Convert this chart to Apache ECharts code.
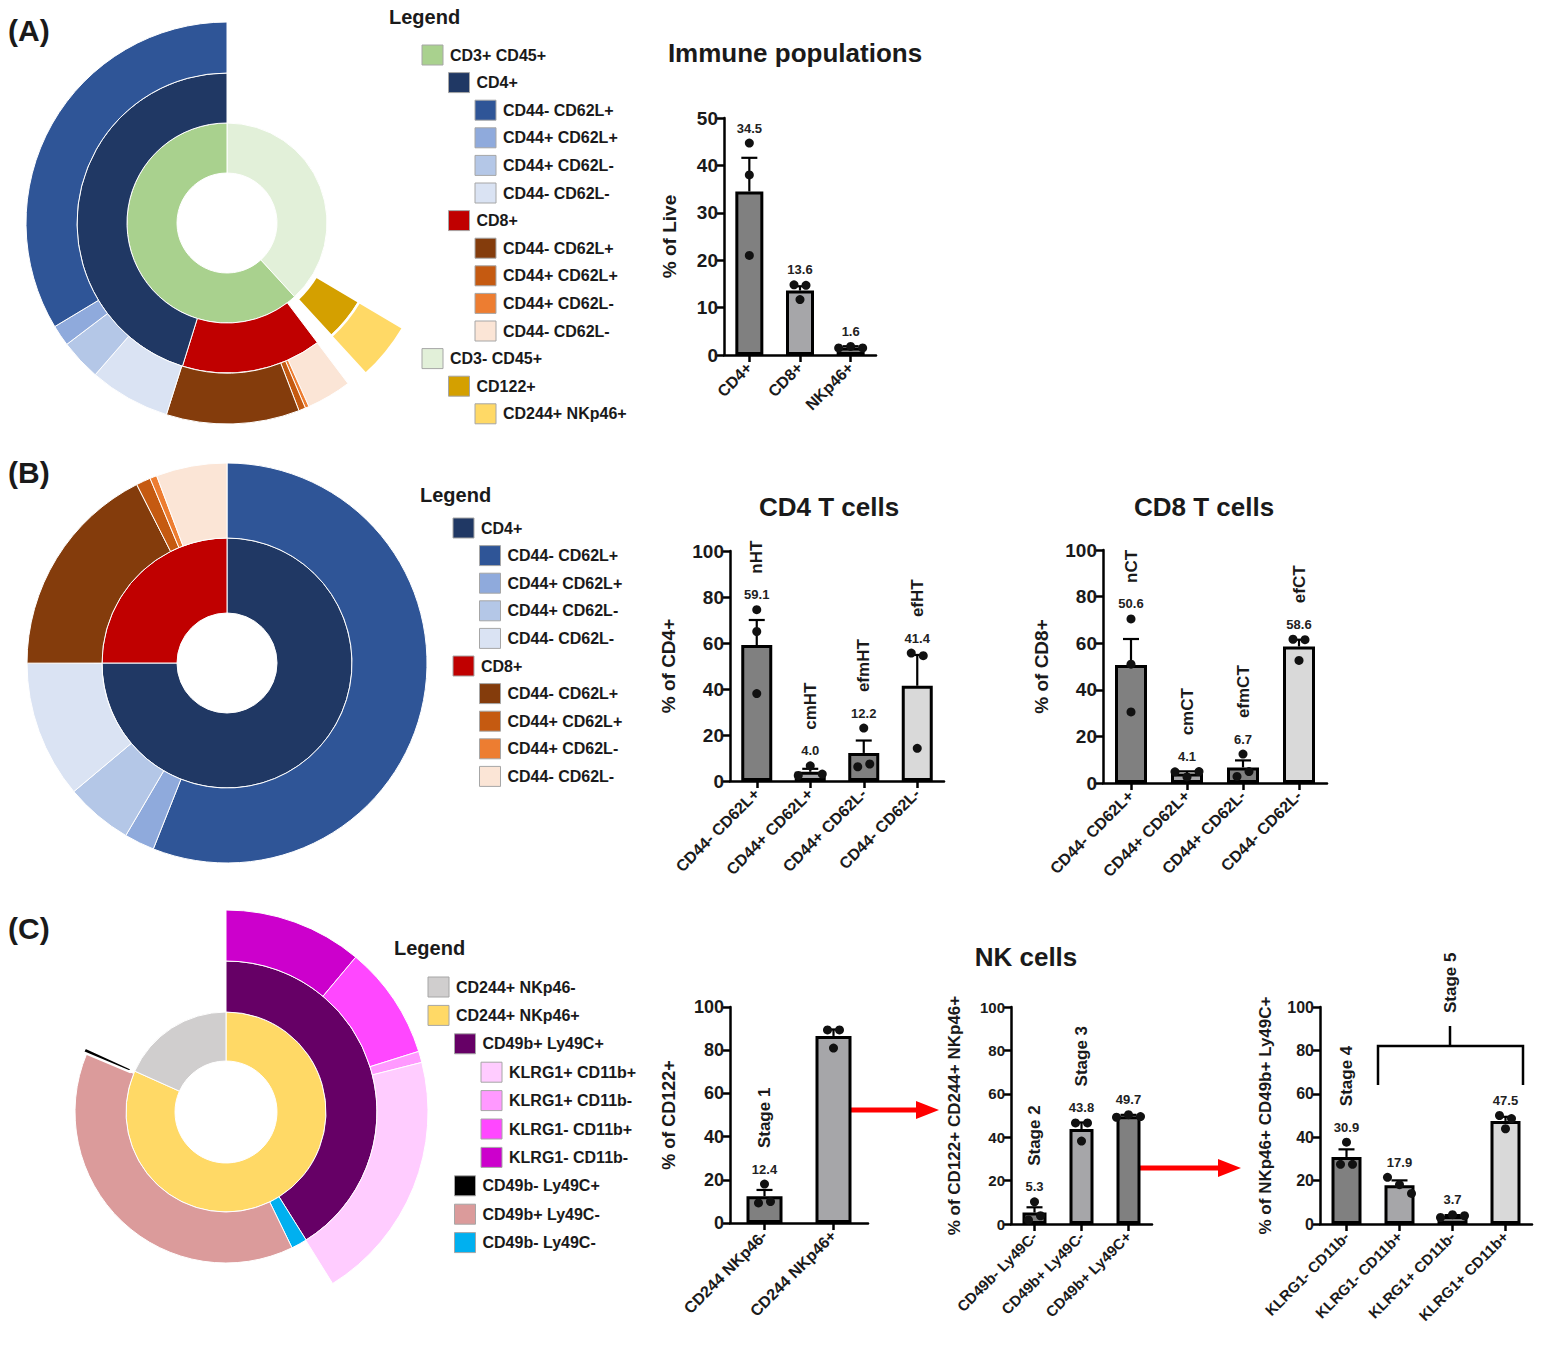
<!DOCTYPE html>
<html>
<head>
<meta charset="utf-8">
<title>Immune populations</title>
<script src="https://cdn.jsdelivr.net/npm/echarts@6/dist/echarts.min.js"></script>
<style>
  html, body { margin: 0; padding: 0; background: #fff; }
  #main { width: 1544px; height: 1350px; }
</style>
</head>
<body>
<div id="main"></div>
<script>
// ---------- sunburst rings (percent of the full circle, clockwise from 12 o'clock, '' = empty) ----------
const sunA1Names = ['CD3- CD45+', 'CD3+ CD45+'];
const sunA1Values = [38.2, 61.8];
const sunA2Names = ['', 'CD122+', '', 'CD8+', 'CD4+'];
const sunA2Values = [33.5, 4.7, 1.5, 15.1, 45.2];
const sunA3Names = ['', 'CD244+ NKp46+', '', 'CD8+ CD44- CD62L-', 'CD8+ CD44+ CD62L-', 'CD8+ CD44+ CD62L+',
  'CD8+ CD44- CD62L+', 'CD4+ CD44- CD62L-', 'CD4+ CD44+ CD62L-', 'CD4+ CD44+ CD62L+', 'CD4+ CD44- CD62L+'];
const sunA3Values = [33.5, 4.7, 1.5, 3.6, 0.3, 0.55, 10.7, 6.5, 3.3, 1.7, 33.6];

const sunB1Names = ['CD4+', 'CD8+'];
const sunB1Values = [75, 25];
const sunB2Names = ['CD4+ CD44- CD62L+', 'CD4+ CD44+ CD62L+', 'CD4+ CD44+ CD62L-', 'CD4+ CD44- CD62L-',
  'CD8+ CD44- CD62L+', 'CD8+ CD44+ CD62L+', 'CD8+ CD44+ CD62L-', 'CD8+ CD44- CD62L-'];
const sunB2Values = [56.0, 2.44, 5.44, 11.1, 17.56, 1.17, 0.56, 5.72];

const sunC1Names = ['CD244+ NKp46+', 'CD244+ NKp46-'];
const sunC1Values = [81.7, 18.3];
const sunC2Names = ['CD49b+ Ly49C+', 'CD49b- Ly49C-', 'CD49b+ Ly49C-', 'CD49b- Ly49C+', ''];
const sunC2Values = [41.1, 1.7, 38.5, 0.55, 18.15];
const sunC3Names = ['KLRG1- CD11b-', 'KLRG1- CD11b+', 'KLRG1+ CD11b-', 'KLRG1+ CD11b+', ''];
const sunC3Values = [11.1, 9.05, 0.9, 20.1, 58.85];

// ---------- legends ----------
const legAText = ['CD3+ CD45+', 'CD4+', 'CD44- CD62L+', 'CD44+ CD62L+', 'CD44+ CD62L-', 'CD44- CD62L-',
  'CD8+', 'CD44- CD62L+', 'CD44+ CD62L+', 'CD44+ CD62L-', 'CD44- CD62L-', 'CD3- CD45+', 'CD122+', 'CD244+ NKp46+'];
const legAKeys = ['CD3+ CD45+', 'CD4+', 'CD4+ CD44- CD62L+', 'CD4+ CD44+ CD62L+', 'CD4+ CD44+ CD62L-', 'CD4+ CD44- CD62L-',
  'CD8+', 'CD8+ CD44- CD62L+', 'CD8+ CD44+ CD62L+', 'CD8+ CD44+ CD62L-', 'CD8+ CD44- CD62L-', 'CD3- CD45+', 'CD122+', 'CD244+ NKp46+'];
const legALevels = [0, 1, 2, 2, 2, 2, 1, 2, 2, 2, 2, 0, 1, 2];

const legBText = ['CD4+', 'CD44- CD62L+', 'CD44+ CD62L+', 'CD44+ CD62L-', 'CD44- CD62L-',
  'CD8+', 'CD44- CD62L+', 'CD44+ CD62L+', 'CD44+ CD62L-', 'CD44- CD62L-'];
const legBKeys = ['CD4+', 'CD4+ CD44- CD62L+', 'CD4+ CD44+ CD62L+', 'CD4+ CD44+ CD62L-', 'CD4+ CD44- CD62L-',
  'CD8+', 'CD8+ CD44- CD62L+', 'CD8+ CD44+ CD62L+', 'CD8+ CD44+ CD62L-', 'CD8+ CD44- CD62L-'];
const legBLevels = [0, 1, 1, 1, 1, 0, 1, 1, 1, 1];

const legCText = ['CD244+ NKp46-', 'CD244+ NKp46+', 'CD49b+ Ly49C+', 'KLRG1+ CD11b+', 'KLRG1+ CD11b-',
  'KLRG1- CD11b+', 'KLRG1- CD11b-', 'CD49b- Ly49C+', 'CD49b+ Ly49C-', 'CD49b- Ly49C-'];
const legCLevels = [0, 0, 1, 2, 2, 2, 2, 1, 1, 1];

// ---------- bar charts ----------
const popCats = ['CD4+', 'CD8+', 'NKp46+'];
const popMeans = [34.5, 13.6, 1.6];
const popSem = [7.1, 0.9, 0.25];
const popDots = [[44.7, 38.0, 21.0], [14.8, 14.7, 11.7], [1.5, 1.8, 1.5]];
const popLabels = ['34.5', '13.6', '1.6'];

const cd4Cats = ['CD44- CD62L+', 'CD44+ CD62L+', 'CD44+ CD62L-', 'CD44- CD62L-'];
const cd4Means = [59.1, 4.0, 12.2, 41.4];
const cd4Sem = [10.9, 1.3, 5.4, 13.4];
const cd4Dots = [[74.5, 65.0, 38.0], [2.4, 6.6, 3.0], [23.0, 6.2, 7.4], [55.6, 54.5, 14.2]];
const cd4Labels = ['59.1', '4.0', '12.2', '41.4'];
const cd4Names = ['nHT', 'cmHT', 'efmHT', 'efHT'];

const cd8Cats = ['CD44- CD62L+', 'CD44+ CD62L+', 'CD44+ CD62L-', 'CD44- CD62L-'];
const cd8Means = [50.6, 4.1, 6.7, 58.6];
const cd8Sem = [11.2, 0.9, 3.0, 2.9];
const cd8Dots = [[70.4, 51.0, 30.5], [4.8, 2.6, 4.9], [12.4, 2.8, 4.9], [61.7, 61.5, 52.6]];
const cd8Labels = ['50.6', '4.1', '6.7', '58.6'];
const cd8Names = ['nCT', 'cmCT', 'efmCT', 'efCT'];

const nk1Cats = ['CD244 NKp46-', 'CD244 NKp46+'];
const nk1Means = [12.4, 86.6];
const nk1Sem = [2.9, 3.0];
const nk1Dots = [[18.0, 9.3, 9.9], [89.4, 89.4, 81.0]];
const nk1Labels = ['12.4', ''];
const nk1Names = ['Stage 1', ''];

const nk2Cats = ['CD49b- Ly49C-', 'CD49b+ Ly49C-', 'CD49b+ Ly49C+'];
const nk2Means = [5.3, 43.8, 49.7];
const nk2Sem = [2.4, 3.0, 0.6];
const nk2Dots = [[10.2, 1.9, 3.8], [46.6, 46.6, 38.2], [49.2, 50.4, 49.5]];
const nk2Labels = ['5.3', '43.8', '49.7'];
const nk2Names = ['Stage 2', 'Stage 3', ''];

const nk3Cats = ['KLRG1- CD11b-', 'KLRG1- CD11b+', 'KLRG1+ CD11b-', 'KLRG1+ CD11b+'];
const nk3Means = [30.9, 17.9, 3.7, 47.5];
const nk3Sem = [3.5, 2.2, 0.4, 1.9];
const nk3Dots = [[37.7, 27.5, 27.5], [21.5, 18.1, 14.1], [3.0, 4.3, 3.8], [50.0, 48.6, 43.9]];
const nk3Labels = ['30.9', '17.9', '3.7', '47.5'];
const nk3Names = ['Stage 4', '', '', ''];

// ---------- styles ----------
const FONT = 'Arial, "Liberation Sans", Helvetica, sans-serif';
const INK = '#1a1a1a';
const pal = {
  'CD3+ CD45+': '#a9d18e', 'CD3- CD45+': '#e2f0d9',
  'CD4+': '#203864', 'CD4+ CD44- CD62L+': '#2f5597', 'CD4+ CD44+ CD62L+': '#8faadc',
  'CD4+ CD44+ CD62L-': '#b4c7e7', 'CD4+ CD44- CD62L-': '#dae3f3',
  'CD8+': '#c00000', 'CD8+ CD44- CD62L+': '#843c0c', 'CD8+ CD44+ CD62L+': '#c55a11',
  'CD8+ CD44+ CD62L-': '#ed7d31', 'CD8+ CD44- CD62L-': '#fbe5d6',
  'CD122+': '#d4a000', 'CD244+ NKp46+': '#ffd966', 'CD244+ NKp46-': '#d0cece',
  'CD49b+ Ly49C+': '#660066', 'CD49b- Ly49C+': '#000000', 'CD49b+ Ly49C-': '#db9b9b', 'CD49b- Ly49C-': '#00b0f0',
  'KLRG1+ CD11b+': '#ffccff', 'KLRG1+ CD11b-': '#ff99ff', 'KLRG1- CD11b+': '#ff47ff', 'KLRG1- CD11b-': '#cc00cc'
};
const DARK = '#808080', MID = '#a6a6a9', LIGHT = '#d9d9d9';

const chart = echarts.init(document.getElementById('main'), null, { renderer: 'svg' });

// one pie per ring
function ring(center, radius, names, values, popped, offset) {
  return {
    type: 'pie', center: center, radius: radius, startAngle: 90, clockwise: true,
    silent: true, animation: false, avoidLabelOverlap: false,
    selectedMode: popped ? 'multiple' : false, selectedOffset: offset || 0,
    label: { show: false }, labelLine: { show: false },
    emphasis: { disabled: true },
    data: names.map((n, i) => ({
      name: n ? n + '#' + i : 'gap' + i,
      value: values[i],
      selected: !!(popped && popped.indexOf(n) >= 0),
      itemStyle: n
        ? { color: pal[n], borderColor: '#fff', borderWidth: (popped && popped.indexOf(n) >= 0) ? 2.5 : 1 }
        : { color: 'rgba(0,0,0,0)', borderWidth: 0 }
    }))
  };
}

// spread overlapping dots sideways, like a column scatter
function jitter(vals, max) {
  const thr = max * 0.042, step = 12;
  const order = vals.map((v, i) => i).sort((a, b) => vals[a] - vals[b]);
  const off = vals.map(() => 0);
  let group = [order[0]];
  const flush = () => {
    const g = group.slice().sort((a, b) => a - b);
    g.forEach((idx, k) => { off[idx] = (k - (g.length - 1) / 2) * step; });
  };
  for (let k = 1; k < order.length; k++) {
    if (vals[order[k]] - vals[order[k - 1]] < thr) group.push(order[k]);
    else { flush(); group = [order[k]]; }
  }
  flush();
  return off;
}

const grids = [], xAxes = [], yAxes = [], series = [];

function barPanel(cfg) {
  const gi = grids.length;
  grids.push({ left: cfg.grid[0], top: cfg.grid[1], width: cfg.grid[2], height: cfg.grid[3],
    containLabel: false, outerBoundsMode: 'none' });
  const axisLine = { show: true, lineStyle: { color: '#000', width: 2.5 } };
  const axisTick = { show: true, length: 7, lineStyle: { color: '#000', width: 2.5 } };
  xAxes.push({
    gridIndex: gi, type: 'category', data: cfg.cats,
    axisLine: axisLine, axisTick: Object.assign({ alignWithLabel: true }, axisTick),
    axisLabel: { rotate: 45, interval: 0, margin: 10, fontSize: cfg.catSize, fontWeight: 'bold', color: INK, fontFamily: FONT },
    splitLine: { show: false }
  });
  yAxes.push({
    gridIndex: gi, type: 'value', min: 0, max: cfg.max, interval: cfg.max / 5,
    name: cfg.yName, nameLocation: 'middle', nameGap: cfg.nameGap, nameMoveOverlap: false,
    nameTextStyle: { fontSize: cfg.nameSize, fontWeight: 'bold', color: INK, fontFamily: FONT },
    axisLine: axisLine, axisTick: axisTick,
    axisLabel: { margin: 6, fontSize: cfg.tickSize, fontWeight: 'bold', color: INK, fontFamily: FONT },
    splitLine: { show: false }
  });
  const common = { xAxisIndex: gi, yAxisIndex: gi, silent: true, animation: false };
  series.push(Object.assign({
    type: 'bar', barWidth: cfg.barWidth, z: 2,
    itemStyle: { borderColor: '#000', borderWidth: 3 },
    data: cfg.means.map((m, i) => ({ value: m, itemStyle: { color: cfg.colors[i] } }))
  }, common));
  series.push(Object.assign({
    type: 'custom', z: 3,
    data: cfg.means.map((m, i) => [i, m, m + cfg.sems[i]]),
    encode: { x: 0, y: [1, 2] },
    renderItem: function (params, api) {
      const a = api.coord([api.value(0), api.value(1)]);
      const b = api.coord([api.value(0), api.value(2)]);
      const st = { stroke: '#000', lineWidth: 2.2 };
      return { type: 'group', children: [
        { type: 'line', shape: { x1: a[0], y1: a[1], x2: b[0], y2: b[1] }, style: st },
        { type: 'line', shape: { x1: b[0] - 8, y1: b[1], x2: b[0] + 8, y2: b[1] }, style: st }
      ] };
    }
  }, common));
  const pts = [];
  cfg.dots.forEach((list, i) => {
    const off = jitter(list, cfg.max);
    list.forEach((v, k) => pts.push({ value: [i, v], symbolOffset: [off[k], 0] }));
  });
  series.push(Object.assign({
    type: 'scatter', z: 4, symbol: 'circle', symbolSize: 9,
    itemStyle: { color: '#111', opacity: 1 }, data: pts
  }, common));
  const tops = cfg.means.map((m, i) => Math.max(m + cfg.sems[i], Math.max.apply(null, cfg.dots[i])));
  series.push(Object.assign({
    type: 'custom', z: 5,
    data: tops.map((t, i) => [i, t]),
    encode: { x: 0, y: 1 },
    renderItem: function (params, api) {
      const i = params.dataIndex;
      const p = api.coord([api.value(0), api.value(1)]);
      const kids = [];
      const lab = cfg.labels[i], nm = cfg.names ? cfg.names[i] : '';
      if (lab) kids.push({ type: 'text', x: p[0], y: p[1] - 15, style: {
        text: lab, fill: '#222', font: 'bold 13px ' + FONT,
        align: 'center', textAlign: 'center', verticalAlign: 'middle', textVerticalAlign: 'middle' } });
      if (nm) kids.push({ type: 'text', x: p[0], y: p[1] - 36, rotation: Math.PI / 2, style: {
        text: nm, fill: INK, font: 'bold 17px ' + FONT,
        align: 'left', textAlign: 'left', verticalAlign: 'middle', textVerticalAlign: 'middle' } });
      return { type: 'group', children: kids };
    }
  }, common));
}

barPanel({ grid: [724, 118, 152, 237], cats: popCats, means: popMeans, sems: popSem, dots: popDots,
  labels: popLabels, names: null, colors: [DARK, MID, DARK], max: 50, barWidth: 28,
  yName: '% of Live', nameGap: 45, nameSize: 19, tickSize: 19, catSize: 16 });
barPanel({ grid: [730, 551, 214, 230], cats: cd4Cats, means: cd4Means, sems: cd4Sem, dots: cd4Dots,
  labels: cd4Labels, names: cd4Names, colors: [DARK, MID, DARK, LIGHT], max: 100, barWidth: 31,
  yName: '% of CD4+', nameGap: 52, nameSize: 19, tickSize: 19, catSize: 16 });
barPanel({ grid: [1103, 550, 224, 233], cats: cd8Cats, means: cd8Means, sems: cd8Sem, dots: cd8Dots,
  labels: cd8Labels, names: cd8Names, colors: [DARK, MID, DARK, LIGHT], max: 100, barWidth: 32,
  yName: '% of CD8+', nameGap: 52, nameSize: 19, tickSize: 19, catSize: 16 });
barPanel({ grid: [730, 1007, 138, 216], cats: nk1Cats, means: nk1Means, sems: nk1Sem, dots: nk1Dots,
  labels: nk1Labels, names: nk1Names, colors: [DARK, MID], max: 100, barWidth: 36,
  yName: '% of CD122+', nameGap: 52, nameSize: 18, tickSize: 18, catSize: 16 });
barPanel({ grid: [1011, 1007, 141, 217], cats: nk2Cats, means: nk2Means, sems: nk2Sem, dots: nk2Dots,
  labels: nk2Labels, names: nk2Names, colors: [DARK, MID, DARK], max: 100, barWidth: 24,
  yName: '% of CD122+ CD244+ NKp46+', nameGap: 48, nameSize: 17, tickSize: 15, catSize: 15 });
barPanel({ grid: [1320, 1007, 212, 217], cats: nk3Cats, means: nk3Means, sems: nk3Sem, dots: nk3Dots,
  labels: nk3Labels, names: nk3Names, colors: [DARK, MID, DARK, LIGHT], max: 100, barWidth: 30,
  yName: '% of NKp46+ CD49b+ Ly49C+', nameGap: 46, nameSize: 17, tickSize: 16, catSize: 15 });

// sunbursts
series.push(ring([227, 223], [50, 100], sunA1Names, sunA1Values));
series.push(ring([227, 223], [100, 150], sunA2Names, sunA2Values, ['CD122+'], 4));
series.push(ring([227, 223], [150, 201], sunA3Names, sunA3Values, ['CD244+ NKp46+'], 4));
series.push(ring([227, 663], [50, 125], sunB1Names, sunB1Values));
series.push(ring([227, 663], [125, 200], sunB2Names, sunB2Values));
series.push(ring([226, 1112], [51, 100], sunC1Names, sunC1Values));
series.push(ring([226, 1112], [100, 151], sunC2Names, sunC2Values, ['CD49b- Ly49C+'], 4));
series.push(ring([226, 1112], [151, 202], sunC3Names, sunC3Values));

// legends, titles and annotations
const graphics = [];
function txt(x, y, text, size, align, rot) {
  graphics.push({ type: 'text', x: x, y: y, rotation: rot || 0, silent: true, style: {
    text: text, fill: INK, font: 'bold ' + size + 'px ' + FONT,
    align: align || 'left', textAlign: align || 'left', verticalAlign: 'middle', textVerticalAlign: 'middle' } });
}
function legend(hx, hy, texts, keys, levels, x0, y0, step) {
  txt(hx, hy, 'Legend', 20);
  texts.forEach((t, i) => {
    const x = x0 + levels[i] * 26.5, y = y0 + i * step;
    graphics.push({ type: 'rect', silent: true, shape: { x: x, y: y - 10, width: 21, height: 20 },
      style: { fill: pal[keys[i]], stroke: '#a6a6a6', lineWidth: 1 } });
    txt(x + 28, y, t, 16);
  });
}
legend(389, 17, legAText, legAKeys, legALevels, 422, 55, 27.6);
legend(420, 495, legBText, legBKeys, legBLevels, 453, 528, 27.6);
legend(394, 948, legCText, legCText, legCLevels, 428, 987, 28.4);

txt(8, 30, '(A)', 30);
txt(8, 472, '(B)', 30);
txt(8, 928, '(C)', 30);
txt(795, 53, 'Immune populations', 26, 'center');
txt(829, 507, 'CD4 T cells', 26, 'center');
txt(1204, 507, 'CD8 T cells', 26, 'center');
txt(1026, 957, 'NK cells', 26, 'center');

// red arrows between NK panels
[[848, 918, 1110], [1138, 1220, 1168]].forEach(a => {
  graphics.push({ type: 'line', silent: true, shape: { x1: a[0], y1: a[2], x2: a[1], y2: a[2] },
    style: { stroke: '#ff0000', lineWidth: 5 } });
  graphics.push({ type: 'polygon', silent: true,
    shape: { points: [[a[1] - 2, a[2] - 9], [a[1] + 21, a[2]], [a[1] - 2, a[2] + 9]] },
    style: { fill: '#ff0000' } });
});
// Stage 5 bracket
graphics.push({ type: 'polyline', silent: true,
  shape: { points: [[1378, 1085], [1378, 1046], [1523, 1046], [1523, 1085]] },
  style: { stroke: '#000', lineWidth: 2.5, fill: null } });
graphics.push({ type: 'line', silent: true, shape: { x1: 1450, y1: 1046, x2: 1450, y2: 1026 },
  style: { stroke: '#000', lineWidth: 2.5 } });
txt(1450, 1013, 'Stage 5', 17, 'left', Math.PI / 2);

chart.setOption({
  animation: false,
  backgroundColor: '#fff',
  textStyle: { fontFamily: FONT },
  grid: grids, xAxis: xAxes, yAxis: yAxes,
  series: series,
  graphic: graphics
});
</script>
</body>
</html>
